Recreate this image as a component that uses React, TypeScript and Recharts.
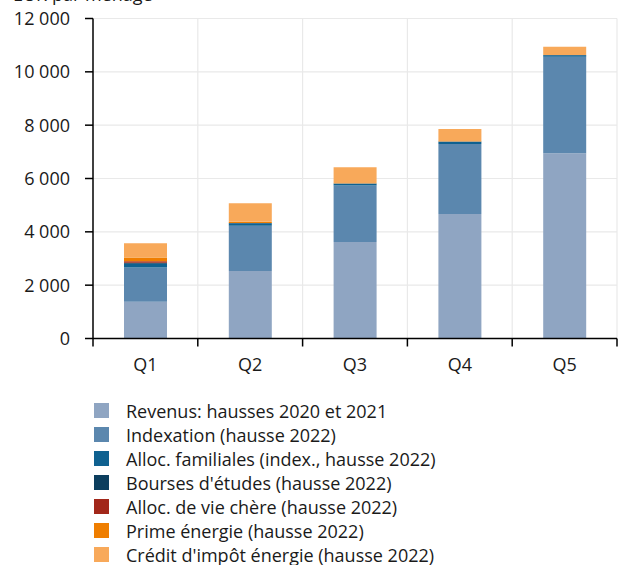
import React from "react";
import {
  BarChart,
  Bar,
  XAxis,
  YAxis,
  CartesianGrid,
  Legend,
} from "recharts";

const quintiles = ["Q1", "Q2", "Q3", "Q4", "Q5"];
const revenus = [1380, 2530, 3620, 4670, 6945];
const indexation = [1280, 1700, 2120, 2620, 3620];
const allocFamiliales = [140, 90, 70, 90, 55];
const boursesEtudes = [40, 10, 5, 10, 10];
const allocVieChere = [60, 0, 0, 0, 0];
const primeEnergie = [140, 50, 10, 10, 5];
const creditImpot = [530, 690, 600, 455, 305];
const yTicks = [0, 2000, 4000, 6000, 8000, 10000, 12000];

const series = [
  { key: "revenus", name: "Revenus: hausses 2020 et 2021", color: "#8fa5c2", values: revenus },
  { key: "indexation", name: "Indexation (hausse 2022)", color: "#5b87ae", values: indexation },
  { key: "allocFam", name: "Alloc. familiales (index., hausse 2022)", color: "#0f6190", values: allocFamiliales },
  { key: "bourses", name: "Bourses d'études (hausse 2022)", color: "#0c3e5e", values: boursesEtudes },
  { key: "vieChere", name: "Alloc. de vie chère (hausse 2022)", color: "#a2271a", values: allocVieChere },
  { key: "prime", name: "Prime énergie (hausse 2022)", color: "#ef7e00", values: primeEnergie },
  { key: "credit", name: "Crédit d'impôt énergie (hausse 2022)", color: "#f8a95a", values: creditImpot },
];

const data = quintiles.map((q, i) => {
  const row: Record<string, string | number> = { q };
  series.forEach((s) => {
    row[s.key] = s.values[i];
  });
  return row;
});

const W = 618;
const H = 565;
const margin = { top: 18.5, right: 1, left: 0, bottom: 186.5 };
const yAxisW = 93;
const halfBand = (W - margin.left - margin.right - yAxisW) / quintiles.length / 2;
const font = "'Open Sans', sans-serif";
const ink = "#1a1a1a";

const fmt = (v: number) => String(v).replace(/\B(?=(\d{3})+(?!\d))/g, " ");

const XTick = (props: any) => {
  const { x, y, payload, index, visibleTicksCount } = props;
  const last = index === visibleTicksCount - 1;
  return (
    <g>
      <line x1={x - halfBand} x2={x - halfBand} y1={y} y2={y + 8} stroke="#000" strokeWidth={1.5} />
      {last && (
        <line x1={x + halfBand} x2={x + halfBand} y1={y} y2={y + 8} stroke="#000" strokeWidth={1.5} />
      )}
      <text x={x} y={y + 20} dy="0.71em" textAnchor="middle" fill={ink} fontSize={18} fontFamily={font}>
        {payload.value}
      </text>
    </g>
  );
};

const LegendList = () => (
  <div style={{ fontFamily: font, fontSize: 18, color: ink }}>
    {series.map((s) => (
      <div key={s.key} style={{ display: "flex", alignItems: "center", height: 24, whiteSpace: "nowrap" }}>
        <span style={{ width: 15, height: 15, background: s.color, marginRight: 17, flex: "none" }} />
        <span style={{ lineHeight: "24px" }}>{s.name}</span>
      </div>
    ))}
  </div>
);

export default function App() {
  return (
    <div style={{ position: "absolute", left: 0, top: 0, width: W, height: H, background: "#fff" }}>
      <BarChart width={W} height={H} data={data} margin={margin}>
        <CartesianGrid
          stroke="#e9e9e9"
          strokeWidth={1.2}
          verticalCoordinatesGenerator={({ offset }: any) =>
            quintiles.map((_, i) => offset.left + ((i + 1) * offset.width) / quintiles.length)
          }
        />
        <XAxis
          dataKey="q"
          height={40}
          axisLine={{ stroke: "#000", strokeWidth: 1.5 }}
          tickLine={false}
          tickSize={0}
          tickMargin={0}
          tick={<XTick />}
          interval={0}
        />
        <YAxis
          width={yAxisW}
          domain={[0, 12000]}
          ticks={yTicks}
          tickFormatter={fmt}
          axisLine={{ stroke: "#000", strokeWidth: 1.5 }}
          tickLine={{ stroke: "#000", strokeWidth: 1.5 }}
          tickSize={8}
          tickMargin={15}
          tick={{ fill: ink, fontSize: 18, fontFamily: font }}
          label={{
            content: () => (
              <text x={13} y={1} fill={ink} fontSize={18} fontFamily={font}>
                EUR par ménage
              </text>
            ),
          }}
        />
        <Legend
          layout="vertical"
          align="center"
          verticalAlign="middle"
          wrapperStyle={{ left: 94, top: 398.5, width: 400 }}
          content={() => <LegendList />}
        />
        {series.map((s) => (
          <Bar
            key={s.key}
            dataKey={s.key}
            name={s.name}
            stackId="a"
            fill={s.color}
            barSize={43}
            isAnimationActive={false}
          />
        ))}
      </BarChart>
    </div>
  );
}
